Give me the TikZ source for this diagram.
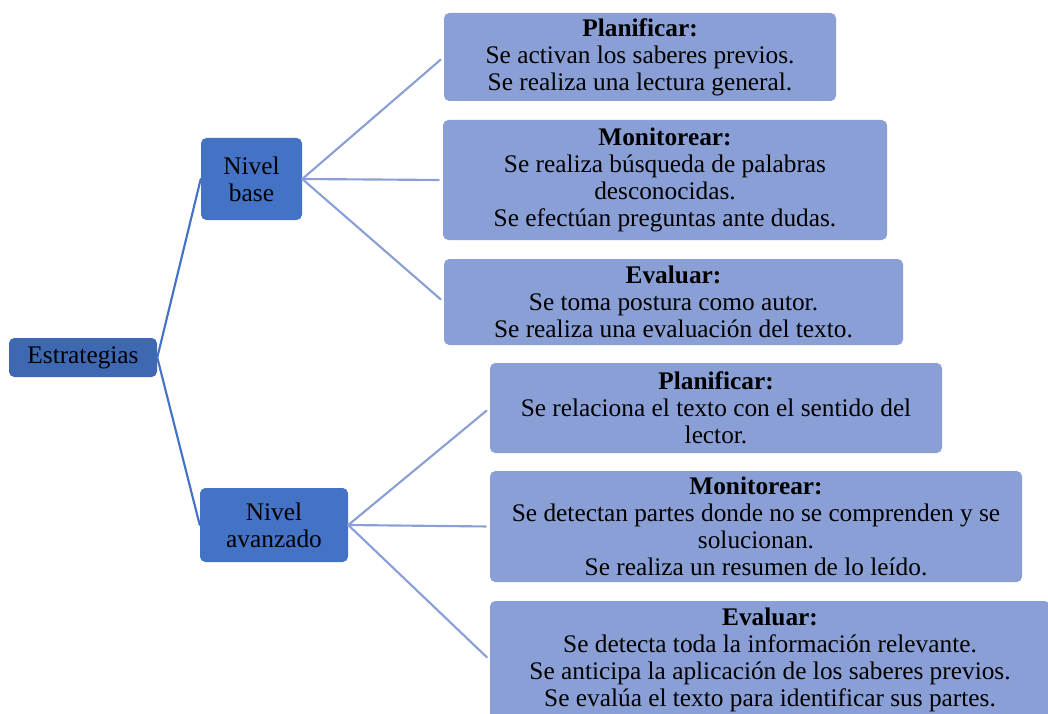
\documentclass[tikz,border=0pt]{standalone}
\usepackage{fontspec}
\setmainfont{Liberation Serif}
\usetikzlibrary{positioning}
\definecolor{rootblue}{HTML}{3F68B2}
\definecolor{midblue}{HTML}{4472C4}
\definecolor{leafblue}{HTML}{8A9FD5}
\newcommand\px{0.75pt}
\begin{document}
\begin{tikzpicture}[x=\px,y=-\px,line cap=round,
 font=\fontsize{19}{20.3}\selectfont,
 box/.style={rounded corners=4pt, inner sep=0pt, align=center, text=black},
 root/.style={box, fill=rootblue},
 level/.style={box, fill=midblue},
 leaf/.style={box, fill=leafblue},
 trunk/.style={midblue, line width=1.6pt},
 twig/.style={leafblue, line width=1.6pt, shorten >=3pt}]
 \useasboundingbox (0,0) rectangle (1048,713);
 \clip (0,0) rectangle (1048,713);
 % left side
 \node[root, minimum width=148*\px, minimum height=39*\px] (est) at (83,357.5) {Estrategias};
 \node[level, minimum width=101*\px, minimum height=82*\px] (base) at (251.5,179) {Nivel\\base};
 \node[level, minimum width=148*\px, minimum height=74*\px] (avz) at (274,525) {Nivel\\avanzado};
 % nivel base
 \node[leaf, minimum width=392*\px, minimum height=88*\px] (bplan) at (640,57)
  {\textbf{Planificar:}\\Se activan los saberes previos.\\Se realiza una lectura general.};
 \node[leaf, minimum width=444*\px, minimum height=120*\px] (bmon) at (665,180)
  {\textbf{Monitorear:}\\Se realiza búsqueda de palabras\\desconocidas.\\Se efectúan preguntas ante dudas.};
 \node[leaf, minimum width=459*\px, minimum height=86*\px] (beva) at (673.5,302)
  {\textbf{Evaluar:}\\Se toma postura como autor.\\Se realiza una evaluación del texto.};
 % nivel avanzado
 \node[leaf, minimum width=452*\px, minimum height=90*\px] (aplan) at (716,408)
  {\textbf{Planificar:}\\Se relaciona el texto con el sentido del\\lector.};
 \node[leaf, minimum width=532*\px, minimum height=111*\px] (amon) at (756,526.5)
  {\textbf{Monitorear:}\\Se detectan partes donde no se comprenden y se\\solucionan.\\Se realiza un resumen de lo leído.};
 \node[leaf, minimum width=560*\px, minimum height=118*\px] (aeva) at (770,660)
  {\textbf{Evaluar:}\\Se detecta toda la información relevante.\\Se anticipa la aplicación de los saberes previos.\\Se evalúa el texto para identificar sus partes.};
 % connectors
 \draw[trunk] (est.east) -- (base.west);
 \draw[trunk] (est.east) -- (avz.west);
 \foreach \t in {bplan,bmon,beva} \draw[twig] (base.east) -- (\t.west);
 \foreach \t in {aplan,amon,aeva} \draw[twig] (avz.east) -- (\t.west);
\end{tikzpicture}
\end{document}
